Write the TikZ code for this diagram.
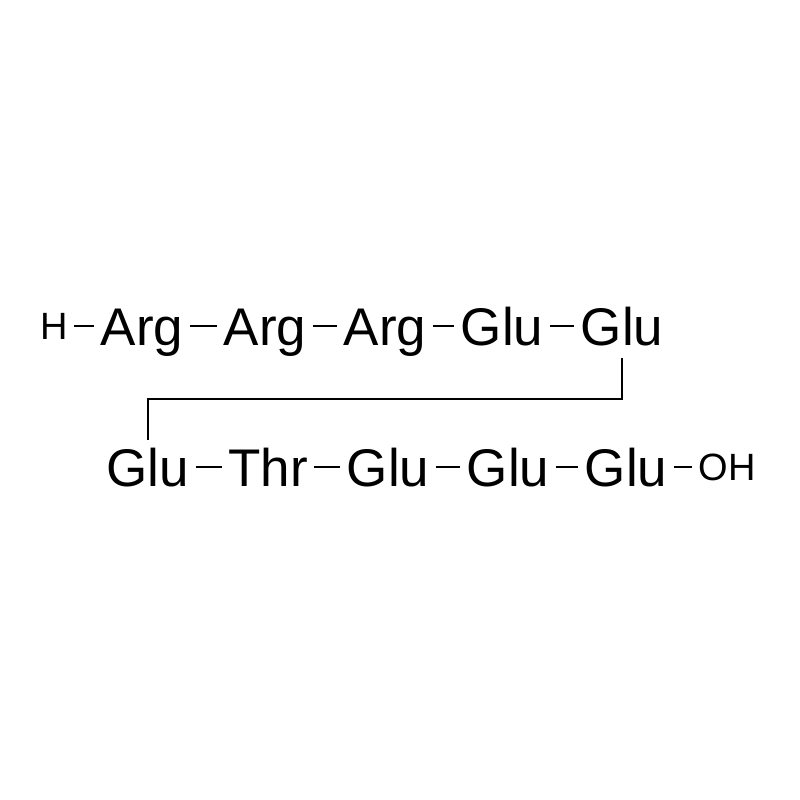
\documentclass[tikz,border=0pt]{standalone}
\usepackage{fontspec}
\setmainfont{Liberation Sans}
\usepackage{tikz}
\usetikzlibrary{positioning}
\tikzset{
res/.style={inner xsep=0pt, inner ysep=0pt, text height=38pt, text depth=0pt, font=\fontsize{53pt}{60pt}\selectfont}, % amino acid residue
term/.style={res, text height=27pt, font=\fontsize{38pt}{44pt}\selectfont}, % H / OH ends
bond/.style={line width=2.6pt, shorten <=6.5pt, shorten >=6.5pt}, % peptide bond dash
link/.style={line width=2pt}, % connector between the two rows
node distance=120pt,
}
\begin{document}
\begin{tikzpicture}[x=1pt, y=-1pt]
    \useasboundingbox (0,0) rectangle (800,800);
    % first row
    \node[res] (r1) at (142,326) {Arg};
    \node[term, left of=r1, node distance=88pt] (h) {H};
    \node[res, right of=r1, node distance=123pt] (r2) {Arg};
    \node[res, right of=r2] (r3) {Arg};
    \node[res, right of=r3, node distance=117pt] (r4) {Glu};
    \node[res, right of=r4] (r5) {Glu};
    % second row
    \node[res] (r6) at (148,467) {Glu};
    \node[res, right of=r6] (r7) {Thr};
    \node[res, right of=r7] (r8) {Glu};
    \node[res, right of=r8] (r9) {Glu};
    \node[res, right of=r9, node distance=118pt] (r10) {Glu};
    \node[term, right of=r10, node distance=101pt] (oh) {OH};

    \draw[bond] (h) -- (r1);
    \draw[bond] (r1) -- (r2);
    \draw[bond] (r2) -- (r3);
    \draw[bond] (r3) -- (r4);
    \draw[bond] (r4) -- (r5);
    \draw[bond] (r6) -- (r7);
    \draw[bond] (r7) -- (r8);
    \draw[bond] (r8) -- (r9);
    \draw[bond] (r9) -- (r10);
    \draw[bond] (r10) -- (oh);

    \draw[link] ([yshift=-13pt]r5.south) -- ++(0,41) -| ([yshift=8pt]r6.north);
\end{tikzpicture}
\end{document}
